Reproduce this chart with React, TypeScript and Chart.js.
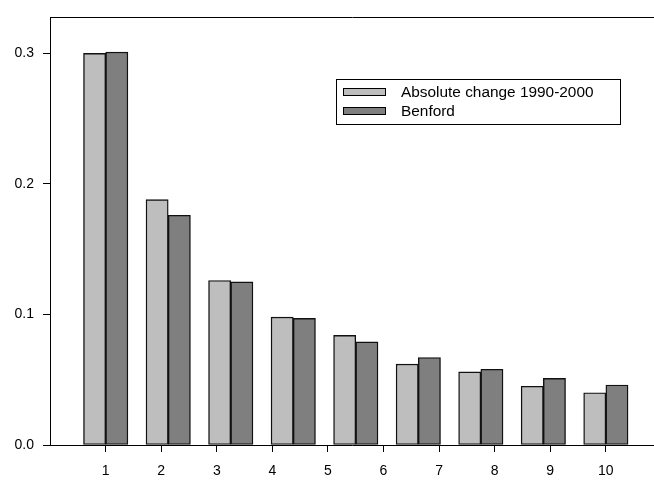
import React, { useEffect, useRef } from "react";
import { Chart, registerables } from "chart.js";

Chart.register(...registerables);

const digits = [1, 2, 3, 4, 5, 6, 7, 8, 9];
const absoluteChange = [0.3, 0.188, 0.126, 0.098, 0.084, 0.062, 0.056, 0.045, 0.04];
const benford = [0.301, 0.176, 0.125, 0.097, 0.079, 0.067, 0.058, 0.051, 0.046];
const xTickLabels = [1, 2, 3, 4, 5, 6, 7, 8, 9, 10];
const yTicks = [0, 0.1, 0.2, 0.3];
const seriesNames = ["Absolute change 1990-2000", "Benford"];
const seriesColors = ["#bebebe", "#7f7f7f"];

const FONT = "'Liberation Sans', Arial, Helvetica, sans-serif";

const frameAndLegend = {
  id: "frameAndLegend",
  afterDraw(chart: any) {
    const ctx = chart.ctx;
    const a = chart.chartArea;
    ctx.save();
    ctx.strokeStyle = "#000";
    ctx.lineWidth = 1;
    const t = Math.round(a.top) + 0.5;
    ctx.beginPath();
    ctx.moveTo(a.left, t);
    ctx.lineTo(a.right + 1, t);
    ctx.stroke();

    // legend box
    const bx = 336.5, by = 79.5, bw = 284, bh = 45;
    ctx.fillStyle = "#fff";
    ctx.fillRect(bx, by, bw, bh);
    ctx.strokeRect(bx, by, bw, bh);
    ctx.font = "15.4px " + FONT;
    ctx.textBaseline = "middle";
    ctx.textAlign = "left";
    chart.data.datasets.forEach((ds: any, i: number) => {
      const sy = 88.5 + i * 19;
      ctx.fillStyle = ds.backgroundColor;
      ctx.fillRect(343.5, sy, 42, 7);
      ctx.strokeRect(343.5, sy, 42, 7);
      ctx.fillStyle = "#000";
      ctx.fillText(ds.label, 401, sy + 4.5);
    });
    ctx.restore();
  },
};

export default function App() {
  const ref = useRef<HTMLCanvasElement>(null);
  useEffect(() => {
    document.body.style.margin = "0";
    if (!ref.current) return;
    const chart = new Chart(ref.current, {
      type: "bar",
      data: {
        datasets: [absoluteChange, benford].map((vals, i) => ({
          label: seriesNames[i],
          data: digits.map((d, j) => ({ x: d, y: vals[j] })),
          backgroundColor: seriesColors[i],
          borderColor: "#111",
          borderWidth: 1.4,
          borderSkipped: false,
          barThickness: 22.2,
        })),
      },
      options: {
        animation: false,
        responsive: false,
        devicePixelRatio: 1,
        layout: { padding: { top: 6, right: 0, left: 0, bottom: 0 } },
        plugins: { legend: { display: false }, tooltip: { enabled: false } },
        scales: {
          x: {
            type: "linear",
            min: 0.109,
            max: 9.77,
            display: false,
            offset: false,
            grid: { offset: false },
          },
          x2: {
            type: "linear",
            position: "bottom",
            min: -0.0025,
            max: 10.869,
            offset: false,
            afterBuildTicks: (s: any) => {
              s.ticks = xTickLabels.map((v) => ({ value: v }));
            },
            afterFit: (s: any) => {
              s.height = 40;
            },
            grid: { offset: false, drawOnChartArea: false, tickLength: 7, color: "#000" },
            border: { color: "#000", width: 1 },
            ticks: {
              autoSkip: false,
              maxRotation: 0,
              padding: 11,
              color: "#000",
              font: { size: 14, family: FONT },
              callback: (v: any) => String(v),
            },
          },
          y: {
            type: "linear",
            min: 0,
            max: 0.3276,
            afterBuildTicks: (s: any) => {
              s.ticks = yTicks.map((v) => ({ value: v }));
            },
            afterFit: (s: any) => {
              s.width = 50;
            },
            grid: { drawOnChartArea: false, tickLength: 7, color: "#000" },
            border: { color: "#000", width: 1 },
            ticks: {
              padding: 9,
              color: "#000",
              font: { size: 14, family: FONT },
              callback: (v: any) => Number(v).toFixed(1),
            },
          },
        },
      } as any,
      plugins: [frameAndLegend],
    });
    return () => chart.destroy();
  }, []);
  return (
    <div style={{ width: 654, height: 485 }}>
      <canvas ref={ref} width={654} height={485} />
    </div>
  );
}
